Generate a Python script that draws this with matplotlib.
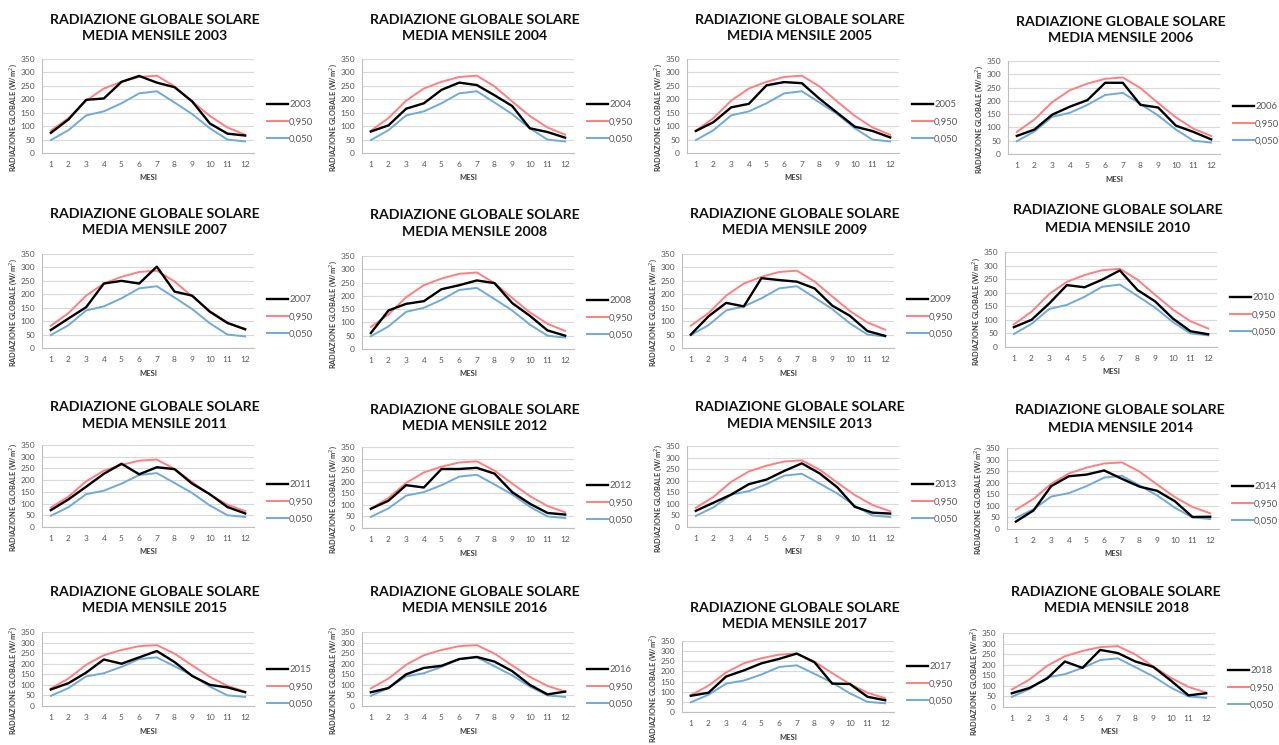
import matplotlib
matplotlib.use("Agg")
import matplotlib.pyplot as plt
from matplotlib.lines import Line2D

plt.rcParams['font.family'] = ['Lato', 'DejaVu Sans']

# ---- data -------------------------------------------------------------
months = list(range(1, 13))
month_labels = [str(m) for m in months]
y_ticks = [0, 50, 100, 150, 200, 250, 300, 350]

# reference percentiles (same in every panel)
q950 = [83, 130, 195, 240, 265, 283, 288, 248, 192, 138, 95, 68]
q050 = [48, 85, 140, 155, 185, 222, 230, 188, 145, 92, 50, 43]

y2003 = [75, 125, 198, 203, 265, 287, 262, 245, 192, 110, 72, 65]
y2004 = [80, 103, 165, 185, 235, 262, 253, 215, 175, 92, 78, 57]
y2005 = [82, 115, 170, 183, 252, 264, 260, 202, 150, 98, 82, 58]
y2006 = [68, 92, 148, 178, 203, 268, 268, 185, 175, 107, 83, 55]
y2007 = [67, 110, 152, 240, 250, 240, 303, 210, 195, 135, 93, 70]
y2008 = [60, 145, 170, 180, 225, 240, 258, 248, 173, 125, 70, 50]
y2009 = [50, 118, 168, 155, 260, 253, 247, 222, 158, 120, 63, 45]
y2010 = [73, 100, 160, 228, 220, 248, 282, 210, 168, 105, 58, 47]
y2011 = [72, 118, 172, 227, 270, 225, 255, 247, 185, 140, 85, 58]
y2012 = [83, 118, 185, 175, 255, 255, 260, 235, 155, 105, 65, 58]
y2013 = [70, 105, 140, 185, 205, 242, 275, 232, 172, 87, 62, 58]
y2014 = [32, 80, 185, 228, 235, 253, 217, 183, 165, 120, 52, 53]
y2015 = [78, 108, 158, 220, 200, 230, 260, 208, 142, 100, 88, 65]
y2016 = [65, 85, 150, 180, 190, 222, 232, 210, 165, 100, 55, 68]
y2017 = [80, 95, 175, 205, 240, 262, 288, 245, 140, 138, 75, 58]
y2018 = [65, 90, 135, 215, 185, 270, 255, 215, 190, 125, 55, 65]

years = [2003, 2004, 2005, 2006, 2007, 2008, 2009, 2010,
         2011, 2012, 2013, 2014, 2015, 2016, 2017, 2018]
series = [y2003, y2004, y2005, y2006, y2007, y2008, y2009, y2010,
          y2011, y2012, y2013, y2014, y2015, y2016, y2017, y2018]

# ---- layout (pixels): plot left, plot top, plot bottom, title centre, legend centre
W, H = 1279, 745
PLOT_W = 212
layout = [
    (42, 59, 153, 28, 122), (362, 59, 153, 28, 122), (687, 59, 153, 28, 122), (1008, 61, 154, 30, 124),
    (42, 254, 348, 222, 317), (362, 256, 349, 224, 318), (682, 254, 348, 222, 317), (1005, 252, 347, 219, 315),
    (42, 445, 527, 416, 502), (362, 447, 528, 418, 503), (687, 446, 527, 416, 502), (1007, 448, 529, 419, 504),
    (42, 632, 706, 600, 687), (362, 632, 706, 600, 687), (682, 641, 712, 616, 684), (1003, 633, 707, 600, 688),
]

C_YEAR = '#000000'
C_HI = '#FF7F80'
C_LO = '#6FAADB'
TXT = '#595959'

fig = plt.figure(figsize=(W / 100, H / 100), dpi=100)
fig.patch.set_facecolor('white')

for year, vals, (left, top, bottom, ty, ly) in zip(years, series, layout):
    h = bottom - top
    ax = fig.add_axes([left / W, 1 - bottom / H, PLOT_W / W, h / H])

    ax.plot(months, q950, color=C_HI, lw=1.4, zorder=3)
    ax.plot(months, q050, color=C_LO, lw=1.4, zorder=3)
    ax.plot(months, vals, color=C_YEAR, lw=1.7, zorder=4)

    ax.set_xlim(0.5, 12.5)
    ax.set_ylim(0, 350)
    ax.set_yticks(y_ticks)
    ax.set_xticks(months)
    ax.set_xticklabels(month_labels)
    ax.grid(axis='y', color='#D9D9D9', lw=0.8, zorder=0)
    ax.set_axisbelow(True)
    for s in ('top', 'right'):
        ax.spines[s].set_visible(False)
    for s in ('left', 'bottom'):
        ax.spines[s].set_color('#BFBFBF')
        ax.spines[s].set_linewidth(0.8)
    ax.tick_params(length=0, labelsize=6, labelcolor=TXT)
    ax.tick_params(axis='y', pad=5)
    ax.tick_params(axis='x', pad=6)

    # axis titles
    fig.text((left + PLOT_W / 2) / W, 1 - (bottom + 25) / H, 'MESI',
             ha='center', va='center', fontsize=5.5, fontweight='bold', color='#404040')
    fig.text((left - 29) / W, 1 - ((top + bottom) / 2 + 12) / H,
             'RADIAZIONE GLOBALE (W/m$^{2}$)', rotation=90,
             ha='center', va='center', fontsize=5.3, fontweight='bold', color='#404040')

    # chart title
    fig.text((left + 113) / W, 1 - ty / H,
             'RADIAZIONE GLOBALE SOLARE\nMEDIA MENSILE %d' % year,
             ha='center', va='center', fontsize=10.2, fontweight='bold',
             color='#111111', linespacing=1.5)

    handles = [Line2D([], [], color=C_YEAR, lw=1.7),
               Line2D([], [], color=C_HI, lw=1.4),
               Line2D([], [], color=C_LO, lw=1.4)]
    labels = [str(year), '0,950', '0,050']
    leg = ax.legend(handles, labels, loc='center left',
                    bbox_to_anchor=((PLOT_W + 13) / PLOT_W, (bottom - ly) / h),
                    frameon=False, fontsize=6.8, handlelength=2.2,
                    handletextpad=0.15, labelspacing=0.85, borderpad=0,
                    borderaxespad=0)
    for t in leg.get_texts():
        t.set_color(TXT)

fig.savefig('out.png', dpi=100, facecolor='white')
